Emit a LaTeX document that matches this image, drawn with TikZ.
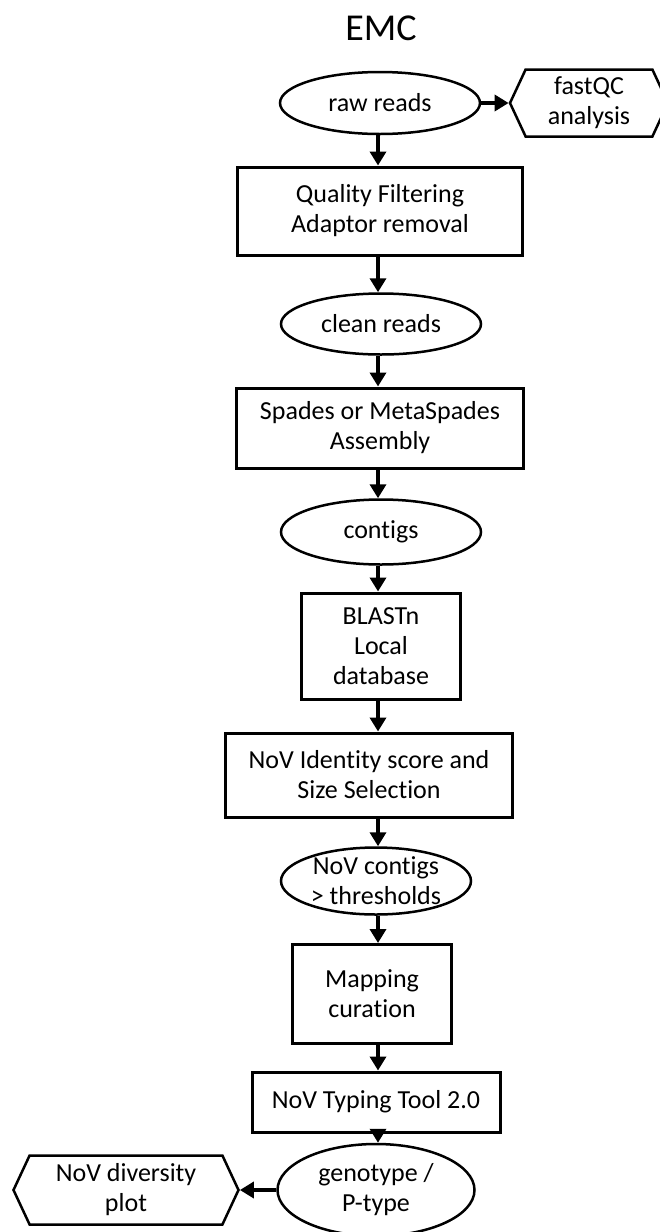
\documentclass[tikz,border=0pt]{standalone}
\usepackage{fontspec}
\setmainfont{Carlito}[Ligatures=NoCommon]
\usetikzlibrary{arrows.meta, positioning, shapes.geometric, shapes.symbols}

\begin{document}
\begin{tikzpicture}[x=1pt, y=-1pt,
  every node/.style={font=\fontsize{26}{30}\selectfont, align=center, inner sep=0pt},
  stepbox/.style={draw, rectangle, line width=3pt},
  oval/.style={draw, ellipse, line width=2.5pt, inner sep=-12pt},
  hexa/.style={draw, signal, signal to=west and east, signal pointer angle=130, line width=2.5pt},
  arr/.style={line width=3.5pt, -{Triangle[width=16pt,length=14pt]}}]
  \useasboundingbox (0,0) rectangle (660,1232);
  \coordinate (col) at (378,0);
  % Title
  \node[font=\fontsize{38}{44}\selectfont] (title) at (381,28) {EMC};
  % Main pipeline
  \node[oval, minimum width=200pt, minimum height=62pt] (raw) at (380,103) {raw reads};
  \node[hexa, minimum width=158pt, minimum height=67pt] (fqc) at (589,103) {fastQC\\analysis};
  \node[stepbox, minimum width=285pt, minimum height=88pt] (qual) at (380,211) {Quality Filtering\\Adaptor removal};
  \node[oval, minimum width=200pt, minimum height=61pt] (clean) at (381,324) {clean reads};
  \node[stepbox, minimum width=287pt, minimum height=80pt] (spades) at (380,428) {Spades or MetaSpades\\Assembly};
  \node[oval, minimum width=200pt, minimum height=65pt] (contigs) at (381,532) {contigs};
  \node[stepbox, minimum width=159pt, minimum height=106pt] (blast) at (381,646) {BLASTn\\Local\\database};
  \node[stepbox, minimum width=287pt, minimum height=84pt] (ident) at (369,775) {NoV Identity score and\\Size Selection};
  \node[oval, minimum width=190pt, minimum height=67pt] (ncont) at (376,881) {NoV contigs\\> thresholds};
  \node[stepbox, minimum width=159pt, minimum height=99pt] (map) at (372,994) {Mapping\\curation};
  \node[stepbox, minimum width=248pt, minimum height=60pt] (typing) at (376,1102) {NoV Typing Tool 2.0};
  \node[oval, minimum width=197pt, minimum height=92pt] (geno) at (376,1190) {genotype /\\P-type};
  \node[hexa, minimum width=225pt, minimum height=69pt] (div) at (126,1190) {NoV diversity\\plot};
  % Connectors
  \foreach \a/\b in {raw/qual, qual/clean, clean/spades, spades/contigs, contigs/blast,
                     blast/ident, ident/ncont, ncont/map, map/typing, typing/geno}
    \draw[arr] (\a.south -| col) -- (\b.north -| col);
  \draw[arr] (raw.east) -- (fqc.west);
  \draw[arr] (geno.west) -- (div.east);
\end{tikzpicture}
\end{document}
